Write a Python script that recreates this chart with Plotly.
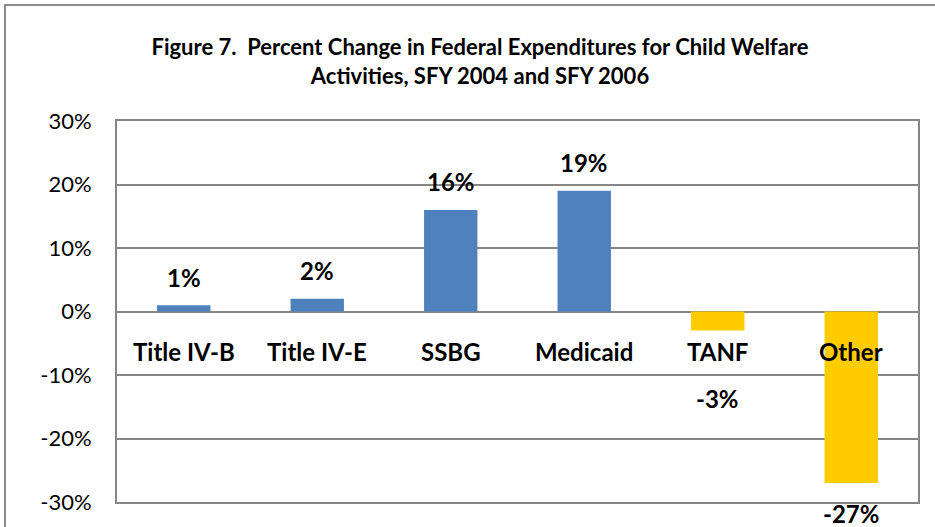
import plotly.graph_objects as go

categories = ["Title IV-B", "Title IV-E", "SSBG", "Medicaid", "TANF", "Other"]
values = [1, 2, 16, 19, -3, -27]
tick_vals = [-30, -20, -10, 0, 10, 20, 30]
tick_text = ["-30%", "-20%", "-10%", "0%", "10%", "20%", "30%"]
title_text = "Figure 7.  Percent Change in Federal Expenditures for Child Welfare<br>Activities, SFY 2004 and SFY 2006"

BLUE = "#4F81BD"
GOLD = "#FFCC00"
GRID = "#868686"
FONT = "Lato"

colors = [BLUE if v >= 0 else GOLD for v in values]

fig = go.Figure()
fig.add_trace(go.Bar(x=categories, y=values, marker=dict(color=colors, line=dict(width=0)),
                     width=0.4, hoverinfo="skip"))

ann = []
# category labels along the zero line
for c in categories:
    ann.append(dict(x=c, y=0, xref="x", yref="y", text="<b>%s</b>" % c, showarrow=False,
                    yanchor="middle", yshift=-40, font=dict(family=FONT, size=24, color="black")))
# value labels
neg_shift = {"TANF": -68}
for c, v in zip(categories, values):
    if v >= 0:
        ys = 28
    else:
        ys = neg_shift.get(c, -31)
    ann.append(dict(x=c, y=v, xref="x", yref="y", text="<b>%d%%</b>" % v, showarrow=False,
                    yanchor="middle", yshift=ys, font=dict(family=FONT, size=24, color="black")))

L, R, T, B = 117, 17, 121, 25
W, H = 935, 527
pw, ph = W - L - R, H - T - B

fig.update_layout(
    width=W, height=H,
    margin=dict(l=L, r=R, t=T, b=B),
    paper_bgcolor="white", plot_bgcolor="white",
    showlegend=False,
    title=dict(text="<b>%s</b>" % title_text, x=(480 - L) / pw, xref="paper", xanchor="center",
               y=1 - 55 / H, yanchor="middle",
               font=dict(family=FONT, size=22, color="black")),
    xaxis=dict(showticklabels=False, showgrid=False, zeroline=False, showline=True,
               linecolor=GRID, linewidth=2, mirror=True, fixedrange=True),
    yaxis=dict(range=[-30, 30], tickvals=tick_vals, ticktext=tick_text, showgrid=True,
               gridcolor=GRID, gridwidth=2, zeroline=True, zerolinecolor=GRID, zerolinewidth=2,
               showline=True, linecolor=GRID, linewidth=2, mirror=True,
               ticklabelstandoff=19,
               tickfont=dict(family=FONT, size=22, color="black"), fixedrange=True),
    annotations=ann,
    bargap=0.6,
)

# outer chart frame
fig.add_shape(type="rect", xref="paper", yref="paper",
              x0=(5 - L) / pw, x1=(W + 10 - L) / pw,
              y0=-(B + 10) / ph, y1=1 + (T - 5) / ph,
              line=dict(color="#8C8C8C", width=2), fillcolor="rgba(0,0,0,0)", layer="below")

fig.write_html("out.html", config={"displayModeBar": False},
               post_script="document.body.style.margin='0';document.body.style.overflow='hidden';")
